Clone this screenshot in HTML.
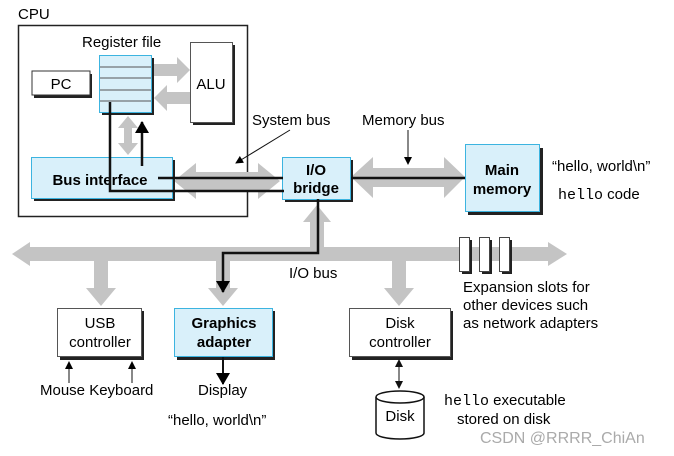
<!DOCTYPE html>
<html><head><meta charset="utf-8"><style>body{margin:0;background:#fff}svg{display:block;font-family:"Liberation Sans",sans-serif}</style></head><body>
<svg width="674" height="456" viewBox="0 0 674 456" xmlns="http://www.w3.org/2000/svg">
<defs><marker id="ah" markerWidth="8" markerHeight="8" refX="7" refY="4" orient="auto" markerUnits="userSpaceOnUse"><path d="M0,0 L8,4 L0,8 z" fill="#000"/></marker>
<marker id="ah2" markerWidth="12" markerHeight="14" refX="11" refY="7" orient="auto" markerUnits="userSpaceOnUse"><path d="M0,0 L12,7 L0,14 z" fill="#000"/></marker></defs>
<g font-size="15">
<text x="18" y="19">CPU</text>
<rect x="18.5" y="25.5" width="229" height="191" fill="none" stroke="#222" stroke-width="1.5"/>
<text x="82" y="47">Register file</text>
<path d="M154,64 H177 V57 L190,70 L177,83 V76 H154 Z" fill="#c4c4c4"/>
<path d="M190,92 H167 V85 L154,98 L167,111 V104 H190 Z" fill="#c4c4c4"/>
<path d="M118,128 L128,116 L138,128 H132 V143 H138 L128,155 L118,143 H124 V128 Z" fill="#c4c4c4"/>
<rect x="34" y="74" width="58" height="24" fill="#222"/>
<rect x="32" y="71" width="58" height="24" fill="#fff" stroke="#333"/>
<text x="61" y="89" text-anchor="middle">PC</text>
<rect x="102" y="58" width="52" height="57" fill="#222"/>
<rect x="99.5" y="55.5" width="52" height="57" fill="#d9f0fa" stroke="#3cb4e0"/>
<g stroke="#555"><line x1="100" y1="67" x2="151" y2="67"/><line x1="100" y1="78" x2="151" y2="78"/><line x1="100" y1="90" x2="151" y2="90"/><line x1="100" y1="101" x2="151" y2="101"/></g>
<rect x="193" y="45" width="42" height="80" fill="#222"/>
<rect x="190.5" y="42.5" width="42" height="80" fill="#fff" stroke="#555"/>
<text x="211" y="89" text-anchor="middle">ALU</text>
<path d="M174,181 L196,163 V172 H258 V163 L280,181 L258,199 V190 H196 V199 Z" fill="#c4c4c4"/>
<path d="M351,177 L373,157 V168 H444 V157 L465,177 L444,198 V187 H373 V198 Z" fill="#c4c4c4"/>
<rect x="34" y="160" width="141" height="41" fill="#222"/>
<rect x="31.5" y="157.5" width="141" height="41" fill="#d9f0fa" stroke="#3cb4e0"/>
<text x="100" y="185" text-anchor="middle" font-weight="bold">Bus interface</text>
<rect x="285" y="160" width="68" height="42" fill="#222"/>
<rect x="282.5" y="157.5" width="68" height="42" fill="#d9f0fa" stroke="#3cb4e0"/>
<text x="316" y="175" text-anchor="middle" font-weight="bold">I/O</text>
<text x="316" y="193" text-anchor="middle" font-weight="bold">bridge</text>
<rect x="468" y="148" width="75" height="67" fill="#222"/>
<rect x="465.5" y="144.5" width="74" height="67" fill="#d9f0fa" stroke="#3cb4e0"/>
<text x="502" y="175" text-anchor="middle" font-weight="bold">Main</text>
<text x="502" y="194" text-anchor="middle" font-weight="bold">memory</text>
<g stroke="#111" stroke-width="2.5" fill="none">
<path d="M158,178 H283"/>
<path d="M351,178 H465"/>
<path d="M110,102 V191 H284"/>
<path d="M142,166 V122" marker-end="url(#ah2)"/>
</g>
<text x="552" y="171">“hello, world\n”</text>
<text x="558" y="199"><tspan font-family="Liberation Mono,monospace">hello</tspan> code</text>
<text x="252" y="125">System bus</text>
<line x1="290" y1="130" x2="236" y2="163" stroke="#111" marker-end="url(#ah)"/>
<text x="362" y="125">Memory bus</text>
<line x1="408" y1="130" x2="408" y2="164" stroke="#111" marker-end="url(#ah)"/>
<path d="M12,254 L30,242 V247 H548 V242 L567,254 L548,266 V261 H30 V266 Z" fill="#c4c4c4"/>
<path d="M310,247 V222 H303 L317,205 L331,222 H324 V247 Z" fill="#c4c4c4"/>
<path d="M94,260 V288 H86 L101,306 L116,288 H108 V260 Z" fill="#c4c4c4"/>
<path d="M216,260 V288 H208 L223,306 L238,288 H230 V260 Z" fill="#c4c4c4"/>
<path d="M392,260 V288 H384 L399,306 L414,288 H406 V260 Z" fill="#c4c4c4"/>
<path d="M318,199 V253 H223 V292" stroke="#111" stroke-width="2.5" fill="none" marker-end="url(#ah2)"/>
<g fill="#222"><rect x="462" y="240" width="10" height="34"/><rect x="482" y="240" width="10" height="34"/><rect x="502" y="240" width="10" height="34"/></g>
<g fill="#fff" stroke="#444"><rect x="459.5" y="237.5" width="10" height="34"/><rect x="479.5" y="237.5" width="10" height="34"/><rect x="499.5" y="237.5" width="10" height="34"/></g>
<text x="289" y="278">I/O bus</text>
<text x="463" y="292">Expansion slots for</text>
<text x="463" y="310">other devices such</text>
<text x="463" y="328">as network adapters</text>
<rect x="60" y="311" width="84" height="49" fill="#222"/>
<rect x="57.5" y="308.5" width="84" height="48" fill="#fff" stroke="#555"/>
<text x="100" y="328" text-anchor="middle">USB</text>
<text x="100" y="347" text-anchor="middle">controller</text>
<rect x="177" y="311" width="98" height="49" fill="#222"/>
<rect x="174.5" y="308.5" width="98" height="48" fill="#d9f0fa" stroke="#3cb4e0"/>
<text x="224" y="328" text-anchor="middle" font-weight="bold">Graphics</text>
<text x="224" y="347" text-anchor="middle" font-weight="bold">adapter</text>
<rect x="352" y="311" width="101" height="49" fill="#222"/>
<rect x="349.5" y="308.5" width="101" height="48" fill="#fff" stroke="#555"/>
<text x="400" y="328" text-anchor="middle">Disk</text>
<text x="400" y="347" text-anchor="middle">controller</text>
<line x1="223" y1="357" x2="223" y2="384" stroke="#111" stroke-width="2" marker-end="url(#ah2)"/>
<line x1="69" y1="383" x2="69" y2="362" stroke="#111" marker-end="url(#ah)"/>
<line x1="132" y1="383" x2="132" y2="362" stroke="#111" marker-end="url(#ah)"/>
<text x="40" y="395">Mouse Keyboard</text>
<text x="198" y="395">Display</text>
<text x="168" y="425">“hello, world\n”</text>
<line x1="399" y1="366" x2="399" y2="382" stroke="#111"/>
<path d="M395,367 L399,359 L403,367 Z M395,381 L399,389 L403,381 Z" fill="#111"/>
<path d="M376,397 V433 A24,6 0 0 0 424,433 V397" fill="#fff" stroke="#111" stroke-width="1.5"/>
<ellipse cx="400" cy="397" rx="24" ry="6" fill="#fff" stroke="#111" stroke-width="1.5"/>
<text x="400" y="421" text-anchor="middle">Disk</text>
<text x="444" y="405"><tspan font-family="Liberation Mono,monospace">hello</tspan> executable</text>
<text x="457" y="424">stored on disk</text>
<text x="480" y="443" fill="#aaa" font-size="16">CSDN @RRRR_ChiAn</text>
</g>
</svg>
</body></html>
